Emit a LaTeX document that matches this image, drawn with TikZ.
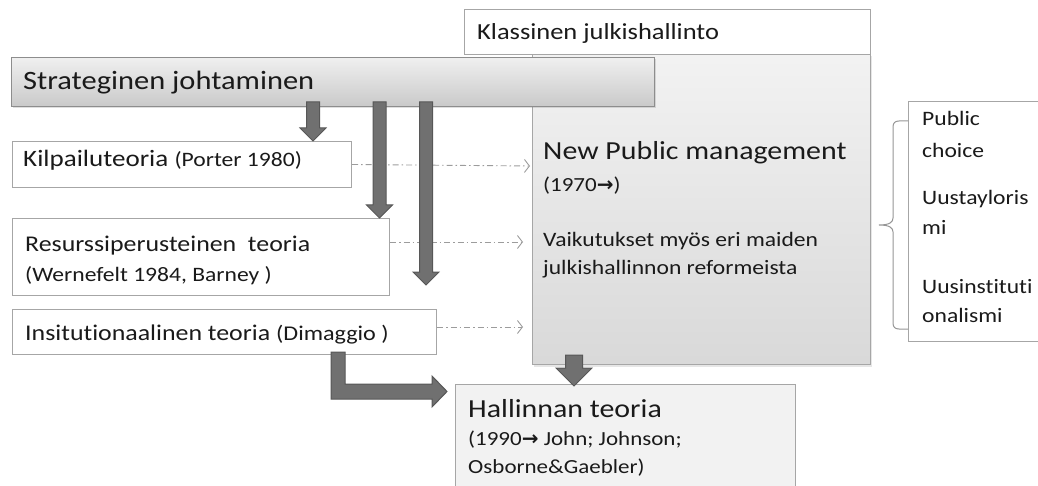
\documentclass[tikz,border=0pt]{standalone}
\usepackage{fontspec}
\setmainfont{Carlito}[FakeStretch=1.15, Ligatures=NoCommon]
\newfontfamily\arrowfont{DejaVu Sans}
\usepackage{tikz}
\usetikzlibrary{arrows.meta}
\usetikzlibrary{positioning}
\usetikzlibrary{calc}
\usetikzlibrary{shadows}
\definecolor{boxline}{HTML}{A6A6A6}
\definecolor{fatgray}{HTML}{707070}
\definecolor{fatline}{HTML}{575757}
\definecolor{dashgray}{HTML}{9C9C9C}
\definecolor{textgray}{HTML}{1A1A1A}
\newcommand{\sz}[1]{\fontsize{#1}{#1}\selectfont}
\newcommand{\rarr}{{\arrowfont\bfseries\symbol{"2192}}}
\tikzset{
	plainbox/.style={draw=boxline, fill=white, line width=1pt, anchor=north west, inner sep=0pt},
	stratbox/.style={plainbox, draw=boxline!85!black, top color=white!94!black, bottom color=white!79!black,
		drop shadow={opacity=0.25, shadow xshift=1.5pt, shadow yshift=-2pt}},
	npmbox/.style={plainbox, top color=white!95!black, bottom color=white!85!black,
		drop shadow={opacity=0.2, shadow xshift=1.5pt, shadow yshift=-2pt}},
	theorybox/.style={plainbox, fill=white!95!black},
	line/.style={anchor=base west, inner sep=0pt, text=textgray},
	fat/.style={draw=fatline, fill=fatgray, line width=1pt, line join=miter},
	dashlink/.style={draw=dashgray, line width=0.9pt, dash pattern=on 6pt off 3pt on 1.5pt off 3pt,
		-{Straight Barb[length=5pt,width=13pt]}},
	bracegray/.style={draw=boxline!90!black, line width=1pt},
}
% down-pointing block arrow: top, tip, shaft half width, head half width, head length
\newcommand{\fatdown}[5]{
	\draw[fat] let \p1=(#1), \p2=(#2) in
		(\x1-#3pt,\y1) -- (\x1+#3pt,\y1) -- (\x1+#3pt,\y2+#5pt) -- (\x1+#4pt,\y2+#5pt)
		-- (\x1,\y2) -- (\x1-#4pt,\y2+#5pt) -- (\x1-#3pt,\y2+#5pt) -- cycle;
}

\begin{document}
\begin{tikzpicture}[x=1pt, y=-1pt]
	\useasboundingbox (0,0) rectangle (1038,486);
	\node[plainbox, minimum width=406pt, minimum height=45pt] (klassinen) at (464,9) {};
	\node[npmbox, minimum width=338pt, minimum height=310pt] (npm) at (532,54) {};
	\node[stratbox, minimum width=643pt, minimum height=49pt] (strat) at (11,57) {};
	\node[plainbox, minimum width=339pt, minimum height=46pt] (kilp) at (12,141) {};
	\node[plainbox, minimum width=377pt, minimum height=77pt] (resurssi) at (12,218) {};
	\node[plainbox, minimum width=424pt, minimum height=45pt] (inst) at (12,309) {};
	\node[theorybox, minimum width=340pt, minimum height=120pt] (hallinnan) at (455,384) {};
	\node[plainbox, minimum width=150pt, minimum height=240pt] (choices) at (908,101) {};

	\node[line, font=\sz{23}] (klassinentext) at (477,40) {Klassinen julkishallinto};
	\node[line, font=\sz{26.5}] (strattext) at (23,90) {Strateginen johtaminen};
	\node[line, font=\sz{23.5}] (kilptext) at (23,167) {Kilpailuteoria {\sz{20.5}(Porter 1980)}};
	\node[line, font=\sz{22.5}] (resurssitext) at (25,252) {Resurssiperusteinen\ \ teoria};
	\node[line, font=\sz{20.5}] (resurssiref) at (25,281) {(Wernefelt 1984, Barney )};
	\node[line, font=\sz{22.5}] (insttext) at (25,340) {Insitutionaalinen teoria {\sz{21}(Dimaggio )}};
	\node[line, font=\sz{26}] (npmtext) at (543,160) {New Public management};
	\node[line, font=\sz{20}] (npmyear) at (543,192) {(1970\rarr)};
	\node[line, font=\sz{20.5}] (npmnote) at (543,247) {Vaikutukset myös eri maiden};
	\node[line, font=\sz{20.5}] (npmnotetwo) at (543,274) {julkishallinnon reformeista};
	\node[line, font=\sz{26}] (hallinnantext) at (468,417) {Hallinnan teoria};
	\node[line, font=\sz{20}] (hallinnanref) at (468,445) {(1990\rarr{} John; Johnson;};
	\node[line, font=\sz{20}] (hallinnanreftwo) at (468,473) {Osborne\&Gaebler)};
	\node[line, font=\sz{20.5}] (choiceone) at (922,126) {Public};
	\node[line, font=\sz{20.5}] (choiceonetwo) at (922,158) {choice};
	\node[line, font=\sz{20.5}] (choicetwo) at (922,205) {Uustayloris};
	\node[line, font=\sz{20.5}] (choicetwotwo) at (922,235) {mi};
	\node[line, font=\sz{20.5}] (choicethree) at (922,293) {Uusinstituti};
	\node[line, font=\sz{20.5}] (choicethreetwo) at (922,322) {onalismi};

	\draw[bracegray] (choices.west |- 0,121) -- (899,121) .. controls (895,121) and (893,123) .. (893,127)
		-- (893,218) .. controls (893,222) and (890,225) .. (879,225)
		.. controls (890,225) and (893,228) .. (893,232) -- (893,323)
		.. controls (893,327) and (895,329) .. (899,329) -- (choices.west |- 0,329);

	\coordinate (kend) at (530,166);
	\coordinate (rend) at (523,242);
	\coordinate (iend) at (523,327);
	\draw[dashlink] (kilp.east) -- (kend);
	\draw[dashlink] (rend -| resurssi.east) -- (rend);
	\draw[dashlink] (iend -| inst.east) -- (iend);

	\coordinate (down1) at (313,102);
	\coordinate (down2) at (379.5,102);
	\coordinate (down3) at (426,102);
	\coordinate (down3end) at (426,285);
	\coordinate (down4) at (574,355);
	\fatdown{down1}{down1 |- kilp.north}{6.5}{13}{13}
	\fatdown{down2}{down2 |- resurssi.north}{6.5}{13}{13}
	\fatdown{down3}{down3end}{6.5}{13}{13}
	\fatdown{down4}{$(down4 |- hallinnan.north)+(0,2)$}{8.5}{18}{18}

	\coordinate (bendstart) at (338,352);
	\coordinate (bendtip) at (447,391.5);
	\draw[fat] let \p1=(bendstart), \p2=(bendtip) in
		(\x1-7pt,\y1) -- (\x1+7pt,\y1) -- (\x1+7pt,\y2+7.5pt) -- (\x2-15pt,\y2+7.5pt)
		-- (\x2-15pt,\y2+15.5pt) -- (\x2,\y2) -- (\x2-15pt,\y2-15.5pt) -- (\x2-15pt,\y2-7.5pt)
		-- (\x1-7pt,\y2-7.5pt) -- cycle;
\end{tikzpicture}
\end{document}
